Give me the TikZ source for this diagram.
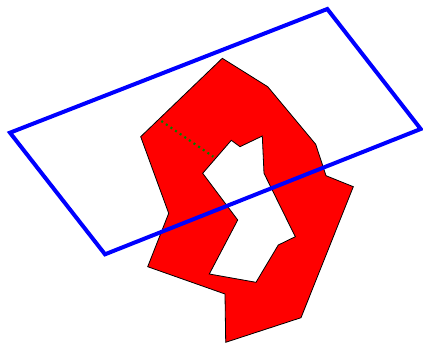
\documentclass[tikz,border=0pt]{standalone}
\begin{document}
\begin{tikzpicture}[x=1pt,y=-1pt,
  region/.style={fill=red,draw=black,line width=0.8pt,even odd rule,line join=miter},
  frame/.style={draw=blue,line width=4pt,line join=miter},
  guide/.style={draw={rgb,255:red,0;green,128;blue,0},line width=2.2pt,dash pattern=on 2pt off 3.6pt}]
\useasboundingbox (0,0) rectangle (423,345);
\path[region]
  (222.3,58.3) -- (267.7,86.7) -- (315.7,144.3) -- (326,175.7) -- (353.3,186.7)
  -- (301,317.7) -- (225.7,342.3) -- (225,294) -- (147.7,266.7) -- (168.7,213.3)
  -- (140.7,136.7) -- cycle
  (231.3,140.3) -- (240,146.7) -- (262.3,136) -- (264,173.3) -- (295.3,236.7)
  -- (278.3,245) -- (256,282.3) -- (209.3,274) -- (237.7,220) -- (202.7,173.3) -- cycle;
\path[frame] (10,132.7) -- (327.3,9) -- (420.7,129) -- (105,254.3) -- cycle;
\path[guide] (161.3,121) -- (213.3,156.7);
\end{tikzpicture}
\end{document}
